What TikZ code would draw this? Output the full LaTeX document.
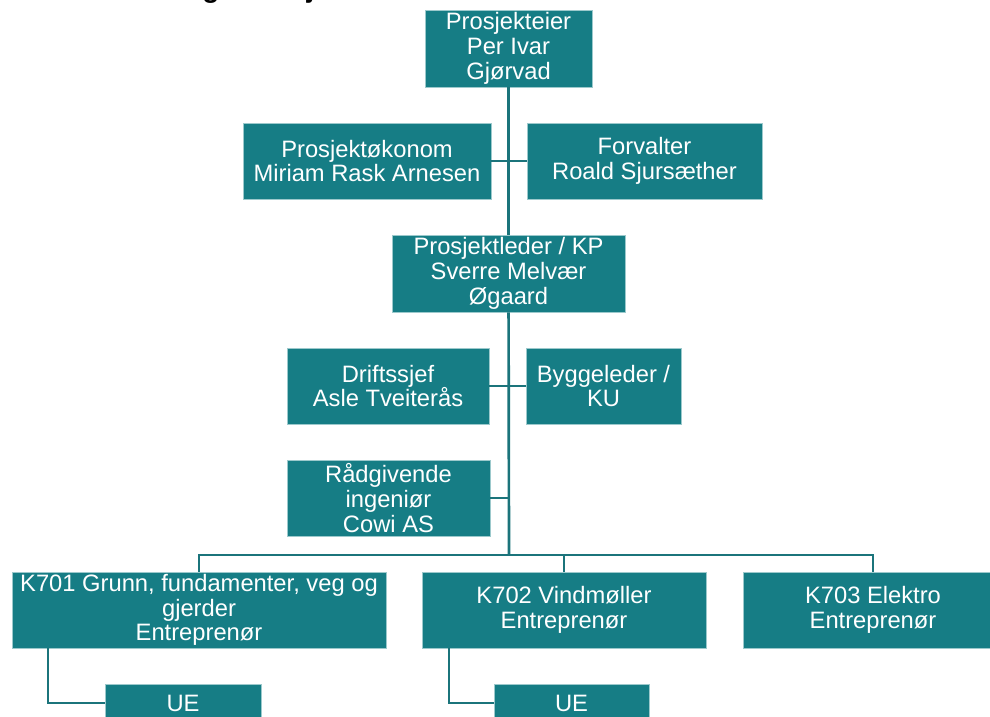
\documentclass[tikz,border=0pt]{standalone}
\usepackage{fontspec}
\setmainfont{Liberation Sans}
\definecolor{boxfill}{HTML}{167D85}
\definecolor{linecol}{HTML}{1B747B}
\definecolor{boxedge}{HTML}{9CC9CC}
\begin{document}
\begin{tikzpicture}[x=0.75pt,y=-0.75pt,
  orgbox/.style={fill=boxfill, draw=boxedge, line width=0.5pt, text=white, align=center,
    inner sep=0pt, font=\fontsize{17.8}{18.6}\selectfont},
  wh/.style 2 args={minimum width=#1*0.75pt, minimum height=#2*0.75pt},
  link/.style={draw=linecol, line width=2pt}]
\useasboundingbox (0,0) rectangle (990,717);
\node[anchor=base west, font=\bfseries\fontsize{21}{24}\selectfont] (title) at (165,-2) {Organisasjonskart};

\node[orgbox, wh={167}{77}] (pe) at (508.5,48.5) {Prosjekteier\\Per Ivar\\Gjørvad};
\node[orgbox, wh={248}{76}] (pok) at (367,161) {Prosjektøkonom\\Miriam Rask Arnesen};
\node[orgbox, wh={235}{76}] (fv) at (644.5,161) {Forvalter\\Roald Sjursæther};
\node[orgbox, wh={233}{77}] (pl) at (508.5,273.5) {Prosjektleder / KP\\Sverre Melvær\\Øgaard};
\node[orgbox, wh={202}{76}] (ds) at (388,386) {Driftssjef\\Asle Tveiterås};
\node[orgbox, wh={155}{76}] (bl) at (603.5,386) {Byggeleder /\\KU};
\node[orgbox, wh={203}{76}] (rg) at (388.5,498) {Rådgivende\\ingeniør\\Cowi AS};
\node[orgbox, wh={374}{76}] (k701) at (199,610) {K701 Grunn, fundamenter, veg og\\gjerder\\Entreprenør};
\node[orgbox, wh={284}{76}] (k702) at (564,610) {K702 Vindmøller\\Entreprenør};
\node[orgbox, wh={260}{76}] (k703) at (873,610) {K703 Elektro\\Entreprenør};
\node[orgbox, wh={156}{38}] (ue1) at (183,703) {UE};
\node[orgbox, wh={155}{38}] (ue2) at (571.5,703) {UE};

\coordinate (bus) at (509,555);
\coordinate (u1) at (48,0);
\coordinate (u2) at (449,0);

\draw[link] (pe) -- (pl);
\draw[link] (pl) -- (bus);
\draw[link] (pok) -- (fv);
\draw[link] (ds) -- (bl);
\draw[link] (rg.east) -- (rg.east -| bus);
\draw[link] (k701.north) |- (bus) -| (k703.north);
\draw[link] (k702.north) -- (k702.north |- bus);
\draw[link] (k701.south -| u1) |- (ue1.west);
\draw[link] (k702.south -| u2) |- (ue2.west);
\end{tikzpicture}
\end{document}
